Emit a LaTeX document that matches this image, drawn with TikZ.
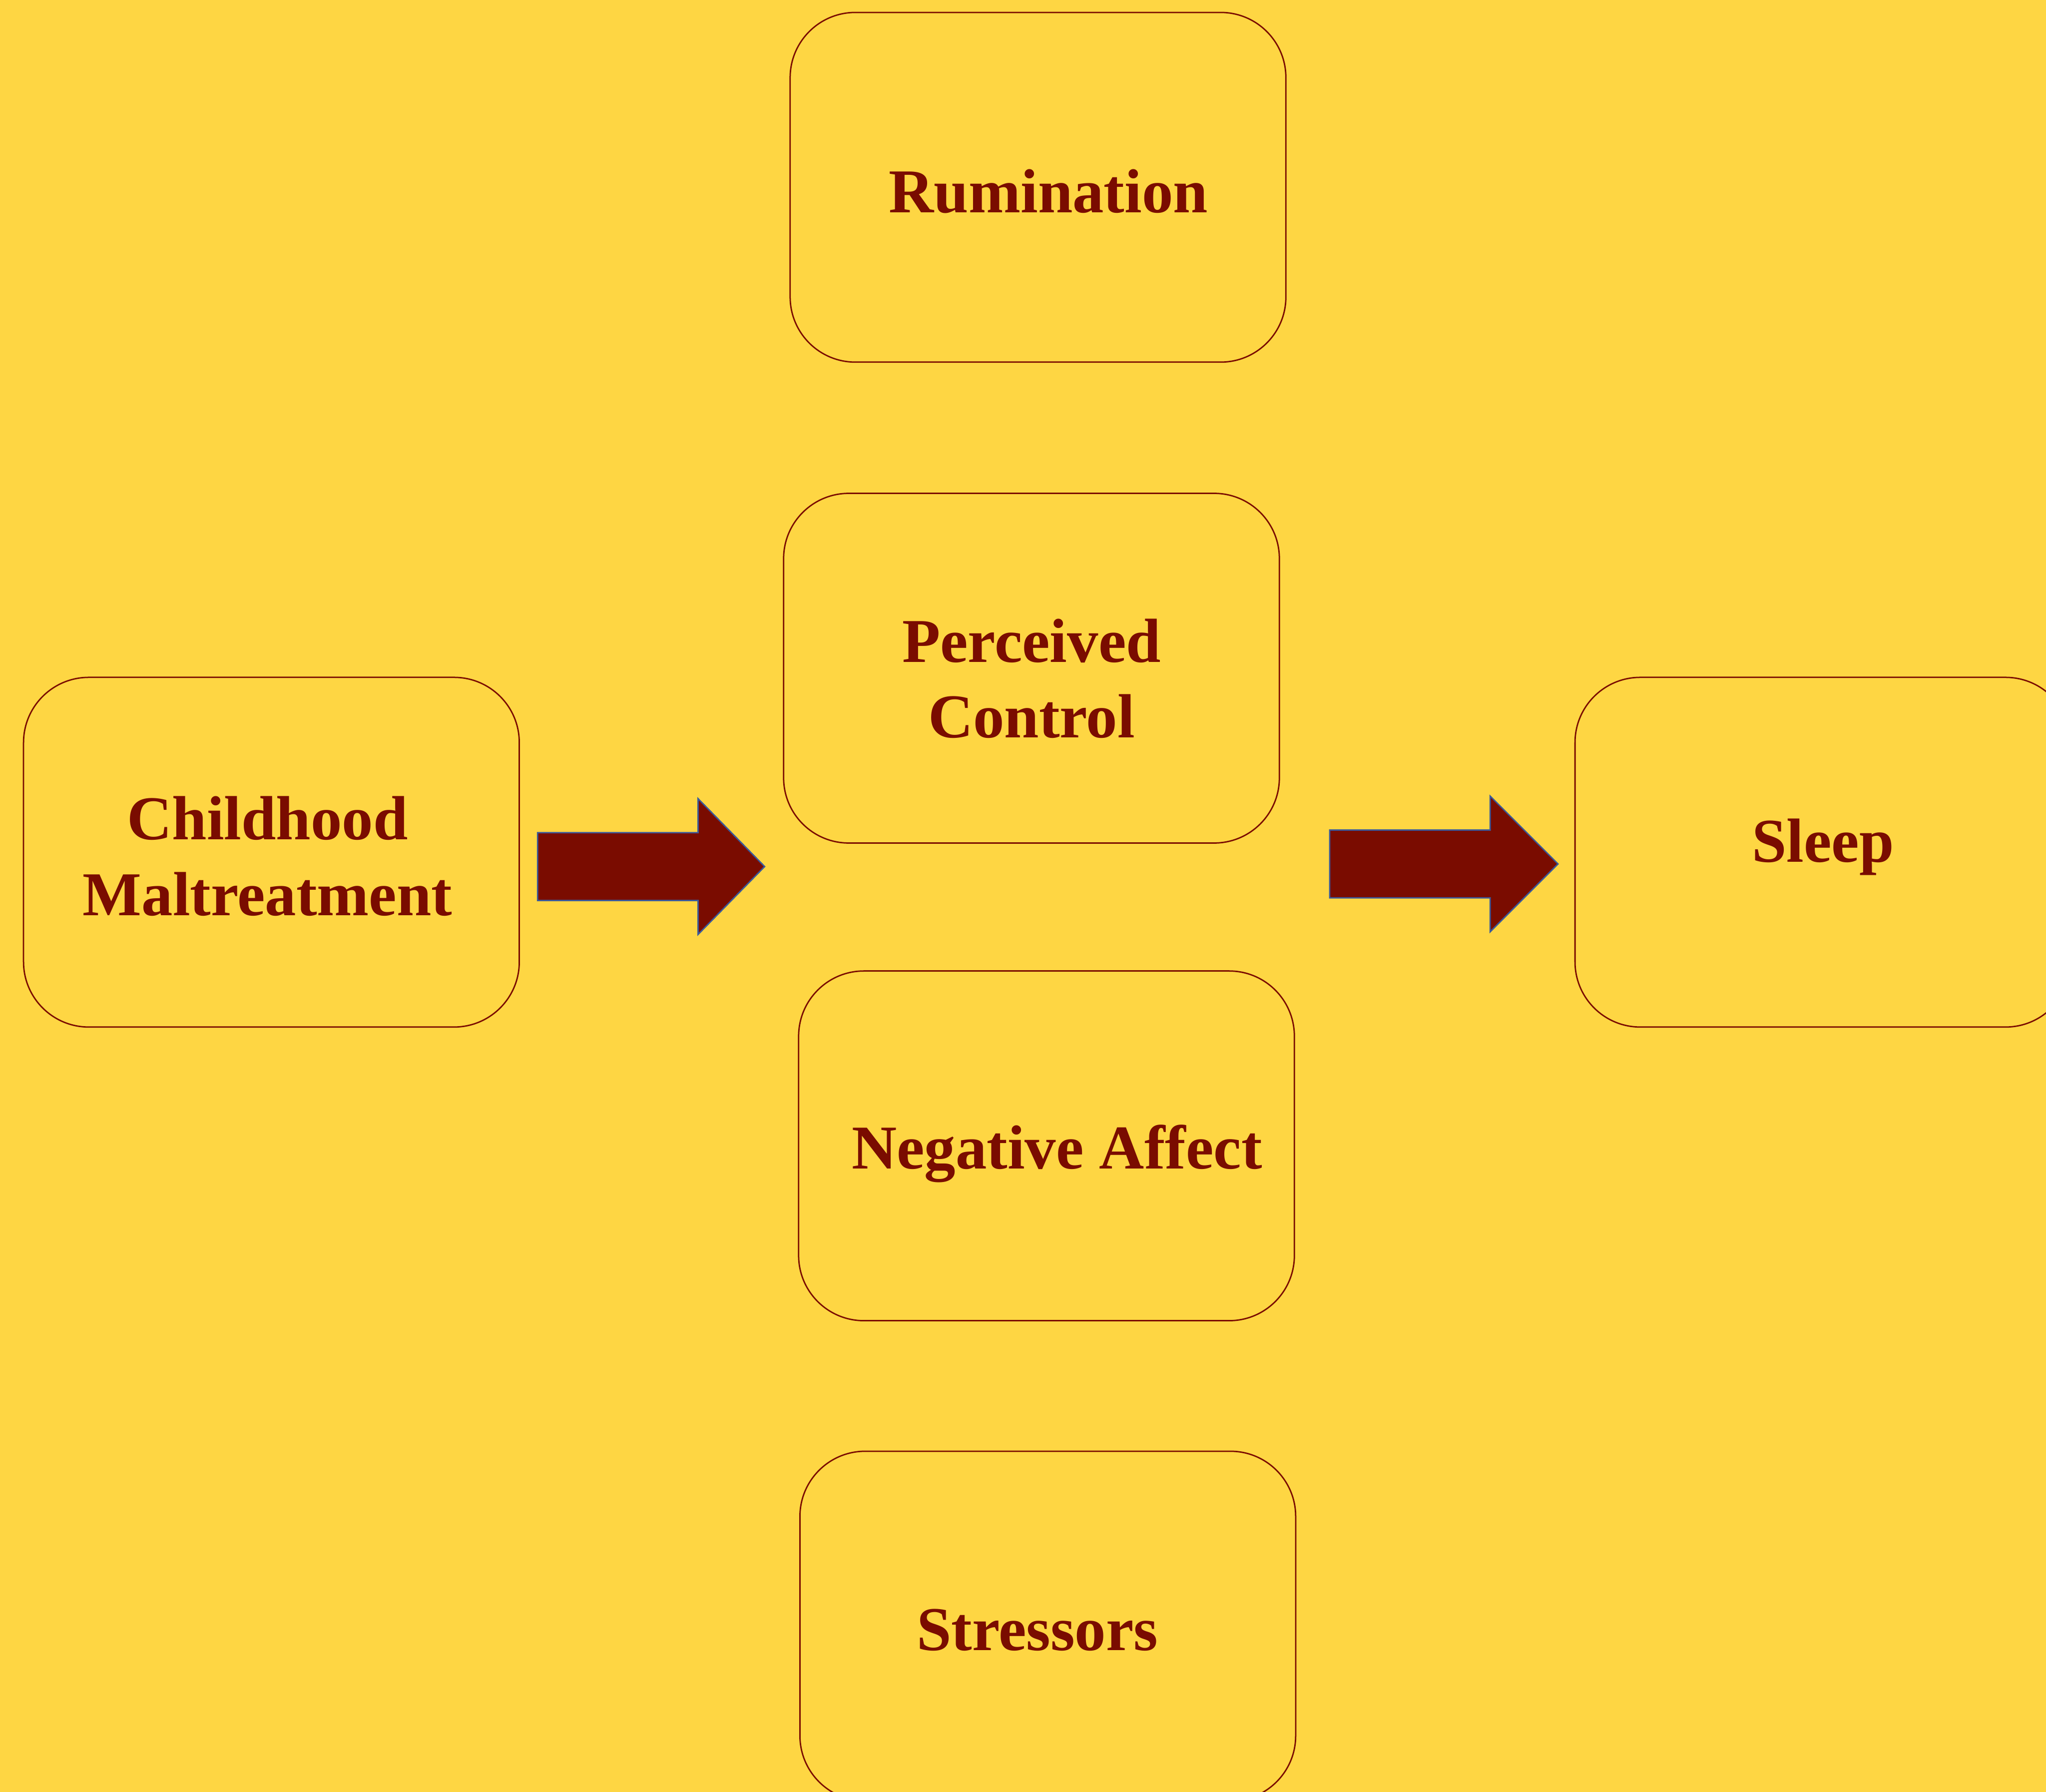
\documentclass[tikz,border=0pt]{standalone}
\usepackage{fontspec}
\setmainfont{Liberation Serif}
\usepackage{tikz}

\definecolor{bgyellow}{HTML}{FED643}
\definecolor{darkred}{HTML}{7A0C00}
\definecolor{arrowblue}{HTML}{3B5A9A}

\tikzset{
  factor/.style={draw=darkred, line width=0.6pt, rounded corners=1cm,
    minimum width=7.6cm, minimum height=5.36cm},
  factortext/.style={align=center, text=darkred,
    font=\bfseries\fontsize{27.2}{33}\selectfont},
  blockarrow/.style={fill=darkred, draw=arrowblue, line width=0.6pt}
}

\begin{document}
\begin{tikzpicture}[x=0.02cm,y=-0.02cm]
\fill[bgyellow] (0,0) rectangle (1568,1373);
\useasboundingbox (0,0) rectangle (1568,1373);

\node[factor] (rum) at (795.5,143.5) {};
\node[factor] (pc) at (790.5,512) {};
\node[factor] (na) at (802,878) {};
\node[factor] (str) at (803,1246) {};
\node[factor] (cm) at (208,653) {};
\node[factor] (sleep) at (1397,653) {};

\node[factortext] (rumtext) at ([shift={(8,3)}]rum.center) {Rumination};
\node[factortext] (pctext) at ([shift={(0,8)}]pc.center) {Perceived\\Control};
\node[factortext] (natext) at ([shift={(8,6)}]na.center) {Negative Affect};
\node[factortext] (strtext) at ([shift={(-8,3)}]str.center) {Stressors};
\node[factortext] (cmtext) at ([shift={(-3,3)}]cm.center) {Childhood\\Maltreatment};
\node[factortext] (sleeptext) at ([shift={(0,-4)}]sleep.center) {Sleep};

% block arrows
\draw[blockarrow] (412,638)--(535,638)--(535,612)--(586,664)--(535,716)--(535,690)--(412,690)--cycle;
\draw[blockarrow] (1019,636)--(1142,636)--(1142,610)--(1194,662)--(1142,714)--(1142,688)--(1019,688)--cycle;
\end{tikzpicture}
\end{document}
